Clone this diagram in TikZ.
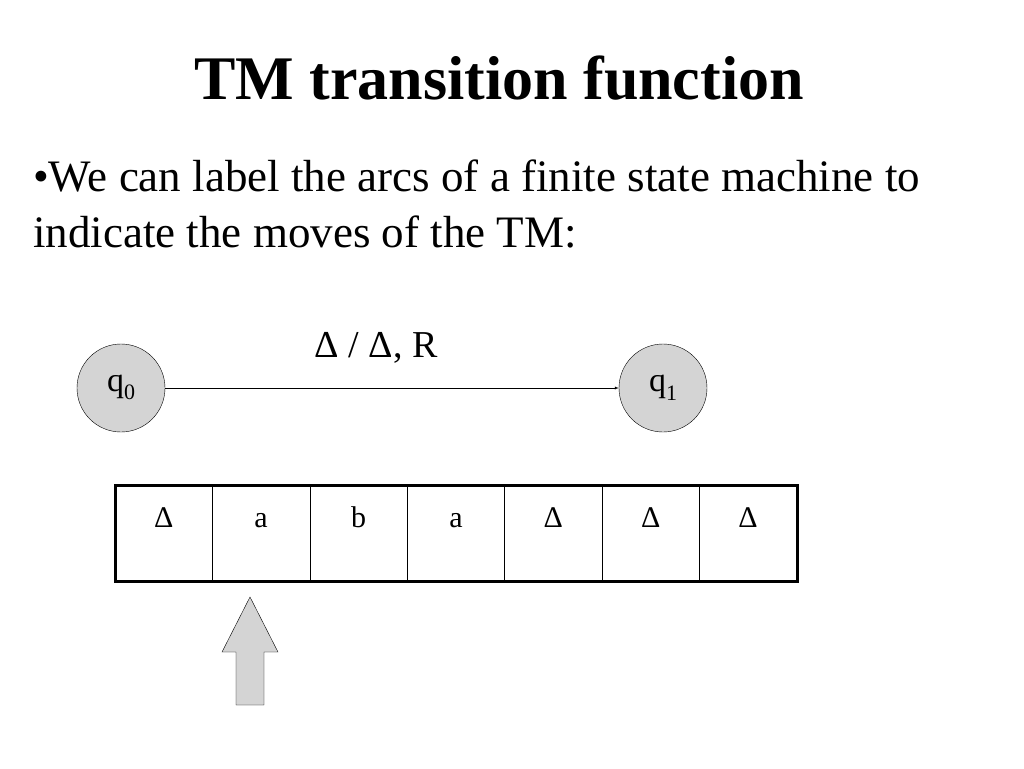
\documentclass[tikz,border=0pt]{standalone}
\usepackage{fontspec}
\setmainfont{Liberation Serif}
\newcommand{\sbs}[1]{\raisebox{-0.25em}{\fontsize{22}{24}\selectfont #1}}
\begin{document}
\begin{tikzpicture}[x=1pt,y=-1pt,
  state/.style={circle,draw,fill=black!17,minimum size=88pt,inner sep=0pt,font=\fontsize{34}{40}\selectfont},
  sym/.style={font=\fontsize{30}{36}\selectfont,text height=21pt,text depth=0pt,anchor=north}]
\useasboundingbox (0,0) rectangle (1024,768);
\node[font=\bfseries\fontsize{62}{70}\selectfont] (title) at (499,78) {TM transition function};
\node[font=\fontsize{45}{56}\selectfont,anchor=north west,align=left,inner sep=0pt] (body) at (33,160) {•We can label the arcs of a finite state machine to\\indicate the moves of the TM:};
\node[state] (q0) at (121,388) {\raisebox{0.3em}{q\sbs{0}}};
\node[state] (q1) at (663,388) {\raisebox{-0.1em}{q\sbs{1}}};
\draw[-latex] (q0) -- (q1);
\node[font=\fontsize{38}{44}\selectfont] (lab) at (376,348) {Δ / Δ, R};
\foreach \i in {1,...,6} \draw (115+97.4*\i,485) -- (115+97.4*\i,581);
\foreach \s [count=\i from 0] in {Δ,a,b,a,Δ,Δ,Δ}
  \node[sym] (t\i) at (163.7+97.4*\i,503) {\s};
\draw[line width=3pt] (115,485) rectangle (797,581);
\draw[fill=black!17] (236,705) -- (236,652) -- (222,652) -- (250,597) -- (278,652) -- (264,652) -- (264,705) -- cycle;
\end{tikzpicture}
\end{document}
